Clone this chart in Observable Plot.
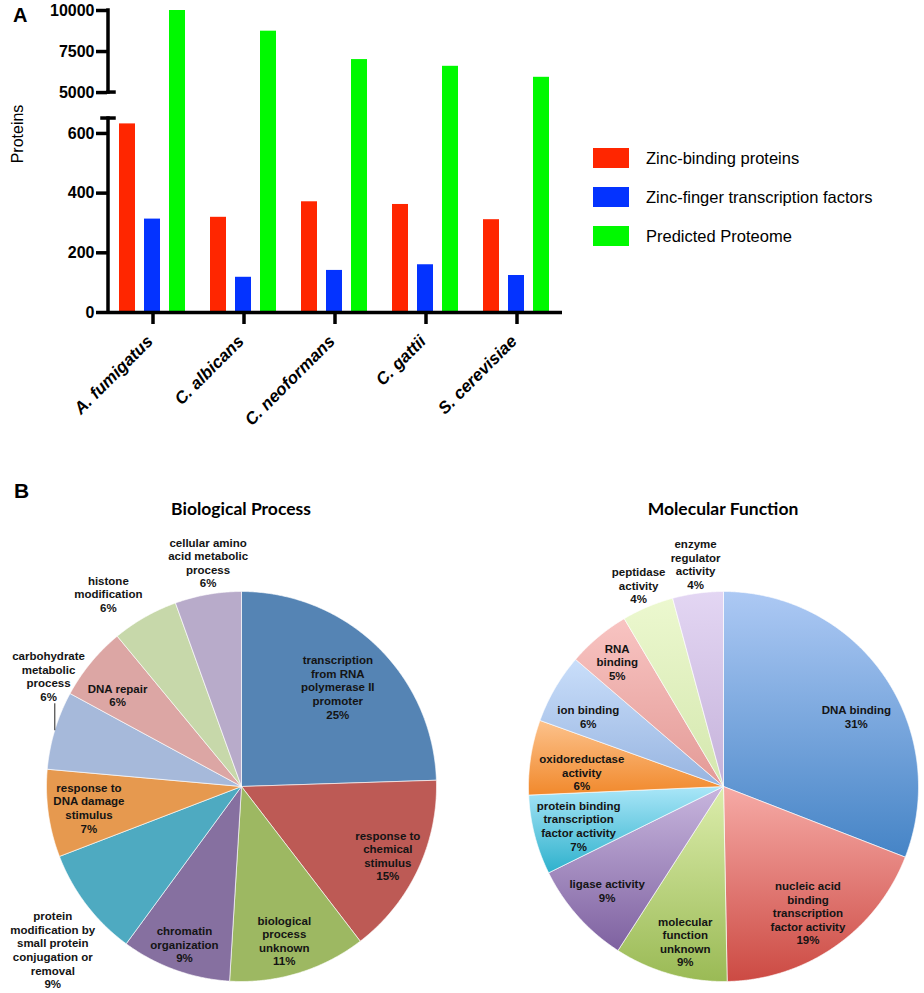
<!DOCTYPE html>
<html><head><meta charset="utf-8">
<script src="https://cdn.jsdelivr.net/npm/d3@7"></script>
<script src="https://cdn.jsdelivr.net/npm/@observablehq/plot@0.6"></script>
<style>
body{margin:0;background:#fff;}
#root{position:relative;width:924px;height:993px;overflow:hidden;font-family:"Liberation Sans",Arial,sans-serif;color:#000;}
.abs{position:absolute;white-space:nowrap;}
svg{position:absolute;overflow:visible;}
</style></head><body><div id="root"></div>
<script>
// ---------- Panel A data ----------
const species = ["A. fumigatus", "C. albicans", "C. neoformans", "C. gattii", "S. cerevisiae"];
const seriesNames = ["Zinc-binding proteins", "Zinc-finger transcription factors", "Predicted Proteome"];
const seriesColors = ["#ff2600", "#0433ff", "#00f900"];
const zincBinding = [632, 319, 371, 362, 311];
const zincFingerTF = [313, 118, 141, 160, 124];
const proteome = [10000, 8740, 7010, 6600, 5930];
const yTicks = [0, 200, 400, 600, 5000, 7500, 10000];
const yBreak = [650, 5000];
const yMax = 10000;

// ---------- Panel B data ----------
const bpNames = ["transcription\nfrom RNA\npolymerase II\npromoter", "response to\nchemical\nstimulus", "biological\nprocess\nunknown", "chromatin\norganization", "protein\nmodification by\nsmall protein\nconjugation or\nremoval", "response to\nDNA damage\nstimulus", "carbohydrate\nmetabolic\nprocess", "DNA repair", "histone\nmodification", "cellular amino\nacid metabolic\nprocess"];
const bpValues = [24.5, 15.1, 11.4, 9.1, 9.1, 7.25, 6.5, 6.1, 5.5, 5.5];
const bpPct = ["25%", "15%", "11%", "9%", "9%", "7%", "6%", "6%", "6%", "6%"];
const bpColors = ["#5584b4", "#bd5a55", "#9db862", "#8670a0", "#4eaac1", "#e6994f", "#a6b9da", "#dca6a4", "#c7d8aa", "#b8abca"];

const mfNames = ["DNA binding", "nucleic acid\nbinding\ntranscription\nfactor activity", "molecular\nfunction\nunknown", "ligase activity", "protein binding\ntranscription\nfactor activity", "oxidoreductase\nactivity", "ion binding", "RNA\nbinding", "peptidase\nactivity", "enzyme\nregulator\nactivity"];
const mfValues = [30.9, 18.8, 9.4, 8.6, 6.6, 6.2, 5.8, 5.2, 4.3, 4.2];
const mfPct = ["31%", "19%", "9%", "9%", "7%", "6%", "6%", "5%", "4%", "4%"];
const mfTop = ["#adc9f4", "#f6aaa6", "#dcedac", "#c8b6de", "#aae6f8", "#fcc28c", "#c9defa", "#f8c4c2", "#ecf8cf", "#e3d6f3"];
const mfBottom = ["#4584c6", "#cc4a43", "#9aba55", "#7e61a0", "#2eb1cc", "#f1892c", "#97b4e0", "#e39a96", "#d4e7ae", "#c5b2da"];

// label layout (fraction of radius, angle nudge in degrees)
const bpLabelR = [0.71, 0.83, 0.82, 0.86, 1.28, 0.79, 1.14, 0.79, 1.2, 1.16];
const bpLabelNudge = [0, 0, 1.5, 0, -3.5, 0, 13, -3, -5, 1.4];
const bpLeader = [false, false, false, false, false, false, true, false, false, false];
const mfLabelR = [0.77, 0.78, 0.82, 0.8, 0.77, 0.73, 0.78, 0.84, 1.12, 1.15];
const mfLabelNudge = [6.6, 1.2, -2, 0, -0.8, -3, -3, -0.5, 0, 0.4];

const root = document.getElementById("root");
function addText(txt, style) {
  const d = document.createElement("div");
  d.className = "abs";
  d.textContent = txt;
  Object.assign(d.style, style);
  root.appendChild(d);
  return d;
}

// ---------- Panel A: broken y axis ----------
// lower segment 0..650 kept in native units; gap 650..5000 compressed; upper 5000..10000 compressed
const gapUnits = 87, upperUnits = 275;
const brk = v => v <= yBreak[0] ? v
  : v <= yBreak[1] ? yBreak[0] + (v - yBreak[0]) / (yBreak[1] - yBreak[0]) * gapUnits
  : yBreak[0] + gapUnits + (v - yBreak[1]) / (yMax - yBreak[1]) * upperUnits;
const unbrk = u => u <= yBreak[0] ? u
  : u <= yBreak[0] + gapUnits ? yBreak[0] + (u - yBreak[0]) / gapUnits * (yBreak[1] - yBreak[0])
  : yBreak[1] + (u - yBreak[0] - gapUnits) / upperUnits * (yMax - yBreak[1]);

const seriesValues = [zincBinding, zincFingerTF, proteome];
const barMarks = seriesValues.map((vals, s) =>
  Plot.barY(species.map((sp, i) => ({species: sp, value: vals[i]})), {
    x: "species", y1: 0, y2: d => brk(d.value), fill: seriesColors[s],
    insetLeft: 12 + 25 * s, insetRight: 63 - 25 * s
  })
);

const plotA = Plot.plot({
  width: 924, height: 440,
  marginLeft: 107, marginRight: 362, marginTop: 10, marginBottom: 128,
  style: {fontFamily: "Liberation Sans, Arial, sans-serif", color: "#000", background: "transparent"},
  x: {type: "band", domain: species, padding: 0},
  y: {type: "linear", domain: [0, brk(yMax)]},
  marks: [
    ...barMarks,
    Plot.axisY(yTicks.map(brk), {tickFormat: u => String(Math.round(unbrk(u))), tickSize: 11, tickPadding: 2, fontSize: 16, fontWeight: "bold", strokeWidth: 3.5, label: null, fill: "#000", stroke: "#000"}),
    Plot.axisX({tickSize: 12, strokeWidth: 3.5, label: null, fill: "none", stroke: "#000"}),
    Plot.axisX({tickSize: 0, tickPadding: 26, dx: -3, tickRotate: -45, fontSize: 17, fontWeight: "bold", fontStyle: "italic", label: null, fill: "#000"}),
    Plot.ruleY([0], {strokeWidth: 3.5, stroke: "#000"}),
    (index, scales, values, dims) => {
      const y = scales.y;
      const x0 = dims.marginLeft + 1;
      const g = d3.create("svg:g").attr("stroke", "#000").attr("stroke-width", 3.5).attr("stroke-linecap", "square");
      g.append("line").attr("x1", x0).attr("x2", x0).attr("y1", y(brk(0))).attr("y2", y(brk(yBreak[0])));
      g.append("line").attr("x1", x0).attr("x2", x0).attr("y1", y(brk(yBreak[1]))).attr("y2", y(brk(yMax)));
      g.append("line").attr("x1", x0 - 6).attr("x2", x0 + 6).attr("y1", y(brk(yBreak[0]))).attr("y2", y(brk(yBreak[0])));
      g.append("line").attr("x1", x0).attr("x2", x0 + 6).attr("y1", y(brk(yBreak[1]))).attr("y2", y(brk(yBreak[1])));
      return g.node();
    }
  ]
});
plotA.style.left = "0px"; plotA.style.top = "0px";
root.appendChild(plotA);

addText("A", {left: "13px", top: "5px", fontSize: "20px", fontWeight: "bold", lineHeight: "20px"});
addText("Proteins", {left: "18px", top: "134px", fontSize: "16px", lineHeight: "18px", transform: "translate(-50%,-50%) rotate(-90deg)"});

// legend
seriesNames.forEach((name, i) => {
  const sw = document.createElement("div");
  sw.className = "abs";
  Object.assign(sw.style, {left: "593px", top: (148 + 39 * i) + "px", width: "36px", height: "20px", background: seriesColors[i]});
  root.appendChild(sw);
  addText(name, {left: "646px", top: (148 + 39 * i) + "px", fontSize: "16.5px", lineHeight: "20px"});
});

// ---------- Panel B ----------
function piePlot({names, values, pct, fills, labelR, labelNudge, leader, width, marginLeft, marginRight, defs}) {
  const arcs = d3.pie().sort(null).value(d => d)(values);
  const pts = [];
  arcs.forEach((a, i) => {
    pts.push({k: i, x: 0, y: 0});
    const n = Math.max(4, Math.ceil((a.endAngle - a.startAngle) / 0.005));
    for (let j = 0; j <= n; j++) {
      const t = a.startAngle + (a.endAngle - a.startAngle) * j / n;
      pts.push({k: i, x: Math.sin(t), y: Math.cos(t)});
    }
    pts.push({k: i, x: 0, y: 0});
  });
  const labels = arcs.map((a, i) => {
    const m = (a.startAngle + a.endAngle) / 2 + (labelNudge[i] * Math.PI / 180);
    return {x: labelR[i] * Math.sin(m), y: labelR[i] * Math.cos(m), text: names[i] + "\n" + pct[i], i};
  });
  const leaders = [];
  if (leader) arcs.forEach((a, i) => {
    if (!leader[i]) return;
    const m = (a.startAngle + a.endAngle) / 2;
    const lines = labels[i].text.split("\n").length;
    leaders.push({x: Math.sin(m), y1: Math.cos(m), y2: labels[i].y - (lines * 13.6 / 2) / 195});
  });
  return Plot.plot({
    width, height: 513,
    marginLeft, marginRight, marginTop: 111, marginBottom: 12,
    style: {fontFamily: "Liberation Sans, Arial, sans-serif", background: "transparent"},
    x: {domain: [-1, 1], axis: null},
    y: {domain: [-1, 1], axis: null},
    color: {type: "identity"},
    marks: [
      defs ? () => defs : null,
      Plot.line(pts, {x: "x", y: "y", z: "k", fill: d => fills[d.k], stroke: "#ffffff", strokeWidth: 0.8, strokeOpacity: 0.8}),
      Plot.link(leaders, {x1: "x", x2: "x", y1: "y1", y2: "y2", stroke: "#222", strokeWidth: 1}),
      Plot.text(labels, {x: "x", y: "y", text: "text", fontSize: 11.5, fontWeight: "bold", lineHeight: 1.18, fill: "#141414"})
    ]
  });
}

const bp = piePlot({names: bpNames, values: bpValues, pct: bpPct, fills: bpColors, labelR: bpLabelR, labelNudge: bpLabelNudge, leader: bpLeader, width: 460, marginLeft: 46, marginRight: 24});
bp.style.left = "0px"; bp.style.top = "480px";
root.appendChild(bp);

// gradients for molecular function
const defsG = d3.create("svg:g");
const defs = defsG.append("defs");
mfTop.forEach((c, i) => {
  const lg = defs.append("linearGradient").attr("id", "mfg" + i).attr("x1", 0).attr("y1", 0).attr("x2", 0).attr("y2", 1);
  lg.append("stop").attr("offset", "0%").attr("stop-color", c);
  lg.append("stop").attr("offset", "100%").attr("stop-color", mfBottom[i]);
});
const mf = piePlot({names: mfNames, values: mfValues, pct: mfPct, fills: mfTop.map((c, i) => "url(#mfg" + i + ")"), labelR: mfLabelR, labelNudge: mfLabelNudge, leader: null, width: 462, marginLeft: 66, marginRight: 6, defs: defsG.node()});
mf.style.left = "462px"; mf.style.top = "480px";
root.appendChild(mf);

addText("B", {left: "14px", top: "480px", fontSize: "21px", fontWeight: "bold", lineHeight: "21px"});
addText("Biological Process", {left: "41px", width: "400px", textAlign: "center", top: "498px", fontFamily: "Lato, sans-serif", fontWeight: "bold", fontSize: "17.5px", lineHeight: "22px"});
addText("Molecular Function", {left: "523px", width: "400px", textAlign: "center", top: "498px", fontFamily: "Lato, sans-serif", fontWeight: "bold", fontSize: "17.5px", lineHeight: "22px"});
</script>
</body></html>
